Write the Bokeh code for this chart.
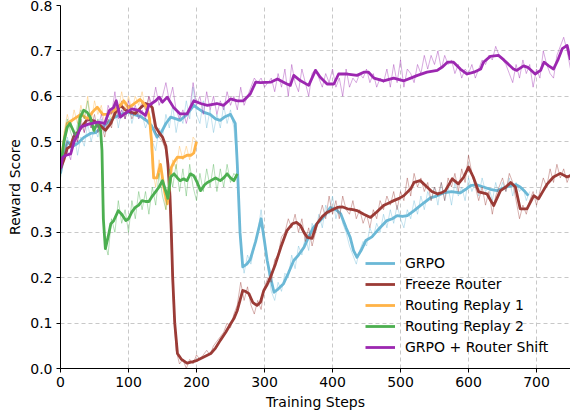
from bokeh.plotting import figure
from bokeh.models import Legend, LegendItem, PrintfTickFormatter, FixedTicker
from bokeh.embed import file_html
from bokeh.resources import INLINE

# ---------------- data ----------------
x_ticks = [0, 100, 200, 300, 400, 500, 600, 700]
y_ticks = [0.0, 0.1, 0.2, 0.3, 0.4, 0.5, 0.6, 0.7, 0.8]
raw_step = 5

grpo_steps = [0,5,10,18,25,35,44,52,59,68, 78,90,100,108,118,127,134,142,148,155,
              162,170,176,186,196,203,210,220,228,235, 242,250,257,260,264,268,274,279,287,295,
              300,304,309,314,320,328,335,343,350,358, 365,372,382,390,397,405,412,420,426,431,
              436,442,449,458,466,473,480,488,495,503, 510,520,530,544,553,563,575,588,596,603,
              612,622,632,642,652,662,670,676,683,688]
grpo_smooth = [0.43,0.47,0.50,0.49,0.496,0.51,0.518,0.52,0.53,0.54, 0.553,0.56,0.565,0.56,0.555,0.546,0.535,0.51,0.52,0.54,
               0.554,0.55,0.547,0.56,0.58,0.572,0.565,0.56,0.55,0.547, 0.555,0.56,0.54,0.45,0.30,0.224,0.23,0.24,0.28,0.33,
               0.28,0.238,0.20,0.168,0.175,0.187,0.21,0.238,0.25,0.267, 0.29,0.311,0.326,0.34,0.355,0.35,0.341,0.31,0.289,0.26,
               0.245,0.26,0.282,0.29,0.304,0.315,0.326,0.33,0.337,0.335, 0.337,0.348,0.36,0.376,0.38,0.387,0.39,0.387,0.395,0.403,
               0.405,0.40,0.395,0.392,0.398,0.403,0.405,0.40,0.39,0.381]
grpo_raw = [0.42,0.47,0.51,0.48,0.52,0.47,0.51,0.49,0.54,0.50,0.53,0.51,0.55,0.52,0.56,0.54,0.58,0.53,0.57,0.55,
            0.58,0.54,0.57,0.55,0.56,0.53,0.55,0.50,0.48,0.53,0.51,0.56,0.53,0.58,0.52,0.56,0.54,0.59,0.55,0.62,
            0.56,0.54,0.59,0.53,0.57,0.52,0.56,0.53,0.58,0.54,0.57,0.53,0.45,0.26,0.21,0.25,0.23,0.27,0.30,0.35,
            0.29,0.22,0.17,0.15,0.19,0.17,0.21,0.20,0.25,0.22,0.27,0.25,0.29,0.26,0.32,0.30,0.34,0.31,0.36,0.34,
            0.38,0.33,0.36,0.32,0.30,0.27,0.25,0.23,0.26,0.28,0.27,0.31,0.29,0.32,0.30,0.34,0.31,0.35,0.32,0.36,
            0.33,0.31,0.35,0.33,0.37,0.34,0.38,0.35,0.39,0.37,0.40,0.36,0.41,0.37,0.40,0.36,0.41,0.38,0.40,0.37,
            0.42,0.39,0.41,0.38,0.42,0.39,0.40,0.37,0.41,0.38,0.41,0.39,0.42,0.38,0.41,0.39,0.40,0.37,0.39]

freeze_steps = [0,5,10,15,19,25,30,40,50,61, 66,74,81,88,96,103,110,118,125,132,
                135,140,145,150,155,158,161,163,165,168, 172,178,186,195,201,210,221,228,235,243,
                250,255,260,264,268,272,277,283,289,294, 299,304,309,316,324,333,341,347,353,358,
                363,370,377,385,392,400,407,415,422,430, 436,446,456,465,475,483,490,498,505,515,
                520,529,539,546,554,560,566,576,585,593, 600,607,615,621,627,637,647,655,662,669,
                676,686,696,703,710,716,725,735,745,750]
freeze_smooth = [0.44,0.46,0.485,0.49,0.51,0.52,0.53,0.55,0.545,0.532, 0.525,0.54,0.565,0.58,0.569,0.565,0.562,0.575,0.584,0.58,
                 0.575,0.532,0.52,0.51,0.49,0.45,0.38,0.30,0.20,0.10, 0.033,0.02,0.012,0.015,0.018,0.025,0.033,0.045,0.062,0.08,
                 0.098,0.11,0.128,0.15,0.172,0.17,0.165,0.145,0.139,0.146, 0.172,0.185,0.202,0.23,0.267,0.304,0.319,0.322,0.315,0.30,
                 0.289,0.287,0.319,0.335,0.344,0.35,0.355,0.356,0.352,0.35, 0.348,0.34,0.333,0.345,0.359,0.365,0.37,0.375,0.381,0.396,
                 0.41,0.414,0.40,0.39,0.385,0.387,0.392,0.418,0.407,0.422, 0.444,0.422,0.389,0.387,0.385,0.359,0.392,0.40,0.41,0.40,
                 0.352,0.352,0.381,0.374,0.392,0.407,0.422,0.43,0.422,0.425]
freeze_raw = [0.44,0.47,0.50,0.49,0.52,0.50,0.55,0.52,0.56,0.53,0.56,0.52,0.54,0.51,0.55,0.53,0.58,0.56,0.59,0.55,
              0.58,0.55,0.57,0.56,0.59,0.57,0.60,0.56,0.52,0.51,0.50,0.48,0.40,0.17,0.04,0.01,0.02,0.00,0.02,0.01,
              0.03,0.02,0.03,0.04,0.03,0.05,0.06,0.07,0.08,0.10,0.09,0.12,0.14,0.19,0.15,0.18,0.14,0.12,0.15,0.13,
              0.18,0.20,0.19,0.24,0.25,0.29,0.30,0.33,0.31,0.34,0.30,0.33,0.28,0.31,0.27,0.30,0.33,0.36,0.33,0.38,
              0.34,0.37,0.33,0.38,0.35,0.34,0.37,0.33,0.35,0.32,0.34,0.31,0.35,0.33,0.37,0.35,0.38,0.36,0.39,0.35,
              0.39,0.37,0.42,0.38,0.43,0.40,0.42,0.39,0.41,0.37,0.40,0.38,0.41,0.37,0.42,0.40,0.43,0.39,0.44,0.41,
              0.47,0.43,0.40,0.37,0.40,0.36,0.39,0.34,0.38,0.40,0.42,0.39,0.43,0.41,0.37,0.33,0.36,0.34,0.37,0.39,
              0.36,0.39,0.42,0.40,0.44,0.41,0.45,0.42,0.44,0.41,0.43]

rr1_steps = [0,5,10,20,30,40,47,54,62,70, 80,88,93,100,108,117,122,127,131,134,
             137,142,147,152,157,160,163,167,172,180, 186,192,196,200]
rr1_smooth = [0.45,0.50,0.54,0.55,0.56,0.55,0.565,0.576,0.56,0.56, 0.57,0.58,0.59,0.575,0.583,0.593,0.585,0.576,0.55,0.50,
              0.42,0.42,0.45,0.40,0.363,0.40,0.443,0.455,0.466,0.465, 0.47,0.47,0.475,0.50]
rr1_raw = [0.44,0.52,0.56,0.53,0.57,0.54,0.58,0.55,0.60,0.54,0.59,0.56,0.58,0.54,0.57,0.55,0.59,0.57,0.61,0.57,
           0.60,0.57,0.60,0.58,0.61,0.57,0.56,0.44,0.40,0.46,0.41,0.35,0.40,0.46,0.44,0.49,0.46,0.49,0.46,0.51,0.50]

rr2_steps = [0,5,10,14,20,25,29,34,39,44, 49,54,59,61,63,66,70,74,78,85,
             90,96,100,105,110,115,120,125,130,135, 140,145,150,155,158,162,167,172,176,181,
             186,191,196,201,206,212,216,221,228,235, 240,245,250,255,260]
rr2_smooth = [0.44,0.50,0.532,0.54,0.52,0.51,0.553,0.569,0.565,0.553, 0.525,0.54,0.525,0.48,0.33,0.264,0.29,0.319,0.325,0.348,
              0.34,0.326,0.33,0.345,0.355,0.36,0.37,0.368,0.368,0.38, 0.39,0.40,0.414,0.39,0.375,0.422,0.429,0.42,0.414,0.418,
              0.414,0.429,0.425,0.41,0.392,0.405,0.41,0.414,0.42,0.414, 0.42,0.429,0.42,0.414,0.429]
rr2_raw = [0.42,0.51,0.55,0.52,0.50,0.54,0.57,0.55,0.59,0.54,0.52,0.55,0.51,0.28,0.25,0.33,0.30,0.37,0.32,0.35,
           0.30,0.37,0.33,0.39,0.35,0.39,0.34,0.40,0.36,0.43,0.38,0.35,0.44,0.40,0.45,0.39,0.44,0.38,0.45,0.40,
           0.37,0.43,0.39,0.44,0.40,0.45,0.39,0.44,0.40,0.45,0.41,0.43,0.42]

shift_steps = [0,3,8,15,20,25,30,40,55,65, 72,78,82,88,95,105,115,125,130,140,
               145,150,157,166,176,186,196,206,216,230, 240,250,260,269,279,287,294,309,319,328,
               333,338,343,353,365,375,382,392,402,409, 422,436,446,453,461,475,490,505,515,525,
               539,554,562,569,578,588,598,608,618,622, 632,644,652,666,671,681,688,698,706,711,
               718,725,732,738,745,750]
shift_smooth = [0.44,0.465,0.47,0.473,0.50,0.515,0.532,0.538,0.543,0.54, 0.569,0.575,0.59,0.554,0.562,0.572,0.569,0.558,0.58,0.59,
                0.598,0.587,0.598,0.576,0.561,0.561,0.59,0.584,0.58,0.584, 0.58,0.594,0.59,0.59,0.605,0.631,0.63,0.631,0.638,0.631,
                0.627,0.624,0.646,0.634,0.624,0.657,0.642,0.627,0.627,0.649, 0.649,0.646,0.653,0.653,0.64,0.634,0.64,0.634,0.64,0.646,
                0.653,0.657,0.665,0.675,0.675,0.66,0.649,0.653,0.66,0.675, 0.688,0.69,0.68,0.66,0.657,0.667,0.663,0.649,0.657,0.675,
                0.667,0.66,0.682,0.705,0.712,0.68]
shift_raw = [0.43,0.47,0.48,0.46,0.52,0.50,0.54,0.52,0.55,0.53,0.55,0.53,0.56,0.53,0.58,0.56,0.61,0.55,0.57,0.55,
             0.59,0.56,0.58,0.55,0.57,0.55,0.60,0.58,0.62,0.58,0.60,0.63,0.59,0.62,0.57,0.55,0.57,0.54,0.57,0.63,
             0.58,0.60,0.56,0.61,0.57,0.60,0.56,0.59,0.57,0.61,0.58,0.60,0.57,0.62,0.58,0.60,0.62,0.64,0.63,0.64,
             0.62,0.63,0.64,0.61,0.65,0.62,0.66,0.60,0.67,0.63,0.61,0.66,0.63,0.60,0.65,0.66,0.64,0.62,0.65,0.63,
             0.66,0.62,0.64,0.60,0.66,0.62,0.64,0.63,0.65,0.64,0.66,0.63,0.65,0.62,0.64,0.63,0.66,0.62,0.67,0.63,
             0.68,0.62,0.66,0.65,0.63,0.67,0.65,0.69,0.66,0.69,0.67,0.70,0.66,0.69,0.67,0.68,0.65,0.67,0.64,0.66,
             0.65,0.67,0.64,0.66,0.68,0.67,0.69,0.68,0.71,0.69,0.68,0.67,0.65,0.63,0.67,0.64,0.68,0.65,0.67,0.62,
             0.66,0.64,0.70,0.67,0.65,0.64,0.69,0.71,0.73,0.70,0.66]

series = [
    ("GRPO", "#6bb8d6", grpo_steps, grpo_smooth, grpo_raw),
    ("Freeze Router", "#9b3b36", freeze_steps, freeze_smooth, freeze_raw),
    ("Routing Replay 1", "#ffb347", rr1_steps, rr1_smooth, rr1_raw),
    ("Routing Replay 2", "#4caf50", rr2_steps, rr2_smooth, rr2_raw),
    ("GRPO + Router Shift", "#9c27b0", shift_steps, shift_smooth, shift_raw),
]

# ---------------- figure ----------------
FONT = "DejaVu Sans"
p = figure(width=570, height=418, x_range=(0, 750), y_range=(0, 0.8),
           output_backend="svg", toolbar_location=None,
           min_border_left=60, min_border_right=0, min_border_top=5, min_border_bottom=50)
p.outline_line_color = None
p.background_fill_color = "white"

items = []
for name, color, xs, ys, raw in series:
    n = min(len(xs), len(ys))
    rx = list(range(0, raw_step * len(raw), raw_step))
    p.line(rx, raw, line_color=color, line_width=1, line_alpha=0.4)
    r = p.line(xs[:n], ys[:n], line_color=color, line_width=2.8, line_join="round")
    items.append(LegendItem(label=name, renderers=[r]))

# axes
for ax in (p.xaxis[0], p.yaxis[0]):
    ax.axis_line_color = "black"
    ax.axis_line_width = 1
    ax.major_tick_line_color = "black"
    ax.major_tick_out = 4
    ax.major_tick_in = 0
    ax.minor_tick_line_color = None
    ax.major_label_text_font = FONT
    ax.major_label_text_font_size = "14px"
    ax.major_label_text_color = "black"
    ax.axis_label_text_font = FONT
    ax.axis_label_text_font_size = "14px"
    ax.axis_label_text_font_style = "normal"
    ax.axis_label_text_color = "black"
    ax.major_label_standoff = 4
    ax.axis_label_standoff = 4

p.xaxis.ticker = FixedTicker(ticks=x_ticks)
p.yaxis.ticker = FixedTicker(ticks=y_ticks)
p.yaxis.formatter = PrintfTickFormatter(format="%.1f")
p.xaxis.axis_label = "Training Steps"
p.yaxis.axis_label = "Reward Score"

for g in (p.xgrid[0], p.ygrid[0]):
    g.grid_line_color = "#c8c8c8"
    g.grid_line_dash = "4 3"
    g.grid_line_width = 1

legend = Legend(items=items, location=(305, 11), border_line_color=None,
                background_fill_alpha=0, label_text_font=FONT,
                label_text_font_size="14px", label_text_color="black",
                glyph_width=30, glyph_height=20, label_height=20,
                spacing=1, padding=5, margin=0, label_standoff=10)
p.add_layout(legend, "center")

open("out.html", "w").write(file_html(p, INLINE))
